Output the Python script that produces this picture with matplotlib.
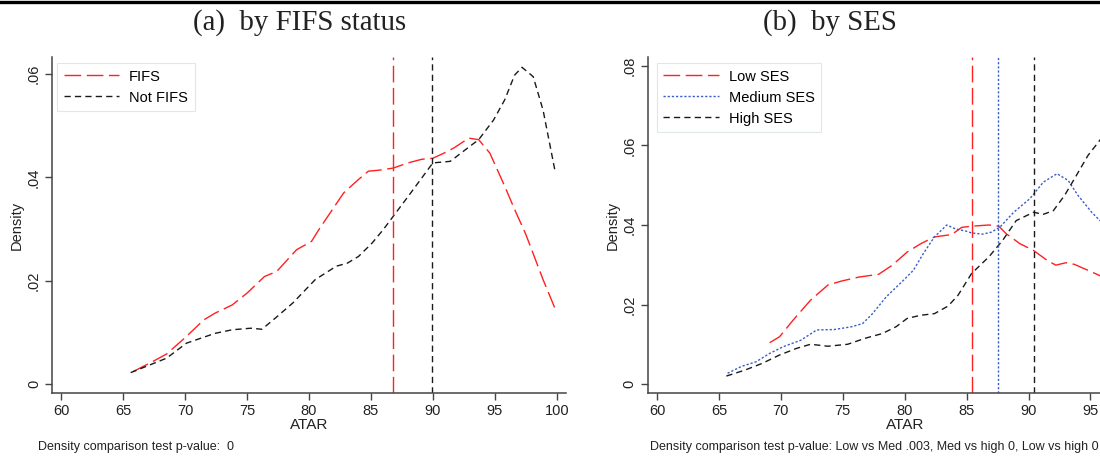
import matplotlib
matplotlib.use("Agg")
import matplotlib.pyplot as plt
from matplotlib.lines import Line2D

plt.rcParams['font.family'] = ['Liberation Sans', 'DejaVu Sans']
plt.rcParams['lines.scale_dashes'] = False

# ATAR density curves, panel (a)
fifs_x = [65.8, 67.5, 68.5, 70.1, 71.5, 72.4, 73.8, 75.0, 76.4, 77.4, 79.0, 80.2, 80.8,
          82.8, 84.0, 84.8, 85.7, 86.8, 88.0, 89.1, 90.0, 90.9, 91.7, 92.9, 93.7, 94.6,
          95.8, 96.6, 97.5, 98.9, 99.9]
fifs_y = [0.0024, 0.0045, 0.0058, 0.0092, 0.0124, 0.0137, 0.0153, 0.0176, 0.0208, 0.0218,
          0.0260, 0.0276, 0.0299, 0.0370, 0.0396, 0.0412, 0.0414, 0.0418, 0.0428, 0.0435,
          0.0437, 0.0447, 0.0457, 0.0476, 0.0473, 0.0447, 0.0383, 0.0338, 0.0290, 0.0202,
          0.0144]
notfifs_x = [65.6, 68.5, 70.1, 72.4, 73.8, 75.3, 76.2, 77.3, 78.7, 80.5, 82.2, 83.1, 84.0,
             85.1, 86.0, 88.0, 90.0, 91.4, 92.6, 93.7, 94.9, 95.8, 96.6, 97.2, 98.1, 98.9,
             99.9]
notfifs_y = [0.0022, 0.0050, 0.0079, 0.0098, 0.0105, 0.0108, 0.0106, 0.0128, 0.0157, 0.0202,
             0.0228, 0.0234, 0.0247, 0.0273, 0.0299, 0.0363, 0.0428, 0.0431, 0.0453, 0.0473,
             0.0511, 0.0550, 0.0598, 0.0613, 0.0595, 0.0530, 0.0408]
fifs_mean = 86.77
notfifs_mean = 89.92

# ATAR density curves, panel (b)
low_x = [69.1, 69.9, 71.0, 72.4, 73.8, 74.9, 76.3, 77.9, 79.0, 80.2, 81.3, 82.4, 83.8,
         84.6, 85.4, 86.8, 87.6, 88.2, 89.3, 90.4, 91.5, 92.2, 93.0, 93.7, 94.8, 95.8]
low_y = [0.0104, 0.0119, 0.0161, 0.0211, 0.0249, 0.0259, 0.0269, 0.0276, 0.0299, 0.0332,
         0.0353, 0.0370, 0.0376, 0.0394, 0.0397, 0.0400, 0.0397, 0.0378, 0.0353, 0.0336,
         0.0311, 0.0299, 0.0305, 0.0301, 0.0286, 0.0272]
med_x = [65.7, 66.8, 68.0, 69.1, 70.2, 71.6, 72.9, 74.3, 75.7, 76.6, 77.4, 78.5, 79.9,
         80.7, 81.5, 82.4, 83.4, 84.1, 84.9, 85.4, 86.3, 87.0, 87.7, 88.8, 90.1, 91.2,
         92.3, 93.2, 94.0, 95.1, 95.8]
med_y = [0.0027, 0.0044, 0.0056, 0.0077, 0.0094, 0.0110, 0.0136, 0.0137, 0.0144, 0.0152,
         0.0177, 0.0219, 0.0261, 0.0286, 0.0328, 0.0370, 0.0400, 0.0390, 0.0385, 0.0380,
         0.0377, 0.0382, 0.0395, 0.0432, 0.0466, 0.0508, 0.0529, 0.0512, 0.0474, 0.0432,
         0.0410]
high_x = [65.6, 67.1, 68.5, 69.9, 71.3, 72.4, 73.8, 75.4, 76.8, 78.2, 79.3, 80.2, 81.3,
          82.4, 83.5, 84.3, 85.4, 86.8, 87.9, 89.0, 90.4, 91.2, 92.0, 92.9, 93.7, 94.8,
          95.8]
high_y = [0.0020, 0.0035, 0.0052, 0.0073, 0.0090, 0.0100, 0.0095, 0.0100, 0.0115, 0.0127,
          0.0144, 0.0165, 0.0173, 0.0177, 0.0196, 0.0223, 0.0278, 0.0320, 0.0361, 0.0411,
          0.0432, 0.0427, 0.0436, 0.0474, 0.0516, 0.0575, 0.0615]
low_mean = 85.46
med_mean = 87.52
high_mean = 90.46

x_ticks = [60, 65, 70, 75, 80, 85, 90, 95, 100]
yticks_a = [0, 0.02, 0.04, 0.06]
yticks_b = [0, 0.02, 0.04, 0.06, 0.08]

RED = '#ff2020'
BLACK = '#1a1a1a'
BLUE = '#3a5cc8'
LONG = (0, (12, 4))
SHORT = (0, (4.5, 3))
DOT = (0, (1.6, 1.4))
AXCOL = '#444444'

W, H = 1100, 459
AX_W, AX_H = 514, 336
fig = plt.figure(figsize=(W / 100, H / 100), dpi=100)

# horizontal rule across the top
fig.add_artist(Line2D([0, 1], [1 - 1.5 / H, 1 - 1.5 / H], color='black', lw=2.4))


def fmt_tick(v):
    if v == 0:
        return '0'
    return ('%.2f' % v).lstrip('0')


def style_axes(ax, yticks, ylim):
    ax.set_xlim(59.25, 100.75)
    ax.set_ylim(*ylim)
    ax.set_xticks(x_ticks)
    ax.set_yticks(yticks)
    ax.set_yticklabels([fmt_tick(v) for v in yticks], rotation=90, va='center')
    ax.spines['top'].set_visible(False)
    ax.spines['right'].set_visible(False)
    for s in ('left', 'bottom'):
        ax.spines[s].set_color(AXCOL)
        ax.spines[s].set_linewidth(1.1)
    ax.tick_params(direction='out', length=5, width=1, color=AXCOL,
                   labelsize=10.5, labelcolor='#222222', pad=3)
    ax.set_xlabel('ATAR', fontsize=11, labelpad=0, color='#222222')
    ax.set_ylabel('Density', fontsize=10.5, labelpad=2, color='#222222')
    ax.patch.set_visible(False)


def add_legend(ax, dx, dy):
    leg = ax.legend(loc='upper left', bbox_to_anchor=(dx / AX_W, 1 - dy / AX_H),
                    borderaxespad=0, fontsize=10.5, handlelength=3.8, handletextpad=0.7,
                    borderpad=0.45, labelspacing=0.48, fancybox=False, framealpha=1,
                    edgecolor='#dde8e8')
    leg.get_frame().set_linewidth(0.8)
    return leg


# panel (a)
ax1 = fig.add_axes([52 / W, 1 - 393 / H, AX_W / W, AX_H / H])
style_axes(ax1, yticks_a, (-0.00174, 0.0633))
ax1.plot(fifs_x, fifs_y, color=RED, ls=LONG, lw=1.0, label='FIFS')
ax1.plot(notfifs_x, notfifs_y, color=BLACK, ls=SHORT, lw=1.0, label='Not FIFS')
ax1.axvline(fifs_mean, color=RED, ls=LONG, lw=1.0)
ax1.axvline(notfifs_mean, color=BLACK, ls=SHORT, lw=1.0)
add_legend(ax1, 5, 6)

# panel (b)
ax2 = fig.add_axes([647.7 / W, 1 - 393 / H, AX_W / W, AX_H / H])
style_axes(ax2, yticks_b, (-0.00226, 0.08226))
ax2.plot(low_x, low_y, color=RED, ls=LONG, lw=1.0, label='Low SES')
ax2.plot(med_x, med_y, color=BLUE, ls=DOT, lw=1.0, label='Medium SES')
ax2.plot(high_x, high_y, color=BLACK, ls=SHORT, lw=1.0, label='High SES')
ax2.axvline(low_mean, color=RED, ls=LONG, lw=1.0)
ax2.axvline(med_mean, color=BLUE, ls=DOT, lw=1.0)
ax2.axvline(high_mean, color=BLACK, ls=SHORT, lw=1.0)
add_legend(ax2, 9, 6)

# panel titles
title_font = dict(family=['Liberation Serif', 'DejaVu Serif'], fontsize=20.8, color='#222222',
                  ha='center', va='center')
fig.text(300 / W, 1 - 23 / H, '(a)  by FIFS status', **title_font)
fig.text(830 / W, 1 - 23 / H, '(b)  by SES', **title_font)

# test notes
fig.text(38 / W, 1 - 447 / H, 'Density comparison test p-value:  0',
         fontsize=9.0, color='#222222', va='center')
fig.text(650 / W, 1 - 447 / H,
         'Density comparison test p-value: Low vs Med .003, Med vs high 0, Low vs high 0',
         fontsize=9.0, color='#222222', va='center')

fig.savefig('out.png', dpi=100)
